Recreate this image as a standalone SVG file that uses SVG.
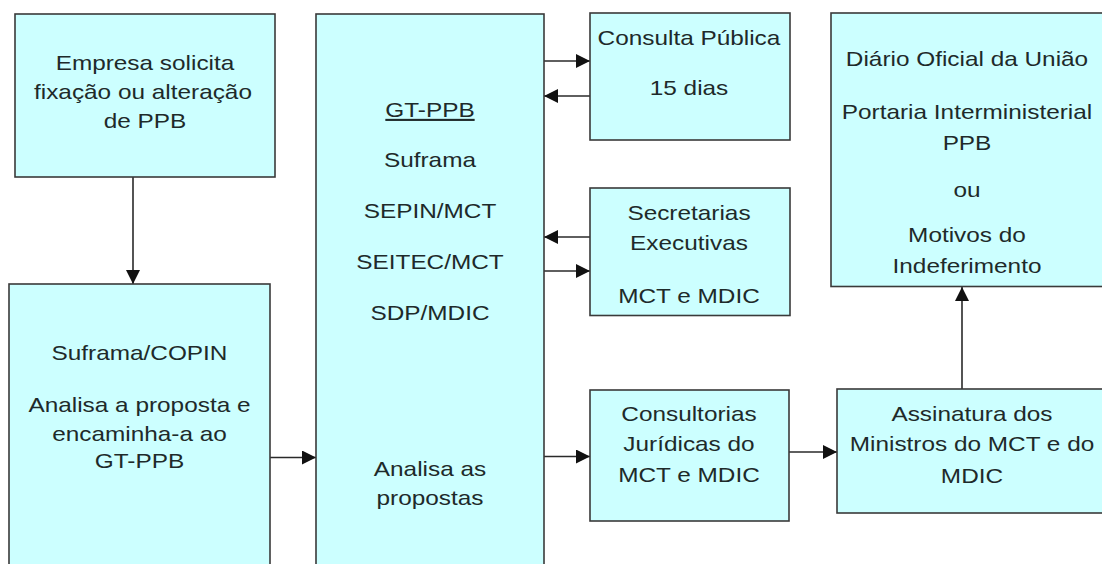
<svg xmlns="http://www.w3.org/2000/svg" width="1102" height="564" viewBox="0 0 1102 564">
<style>
.box{fill:#ccffff;stroke:#3a3a3a;stroke-width:1.6}
.t{font-family:"Liberation Sans",Arial,sans-serif;font-size:21px;fill:#1e2a2a;text-anchor:middle;transform-box:fill-box;transform-origin:center;transform:scaleX(1.16)}
.c{stroke:#2a2a2a;stroke-width:1.6;fill:none;marker-end:url(#ah)}
</style>
<defs>
<marker id="ah" markerUnits="userSpaceOnUse" markerWidth="15" markerHeight="14" refX="14" refY="7" orient="auto">
<path d="M0,0 L14,7 L0,14 z" fill="#111"/>
</marker>
</defs>
<rect width="1102" height="564" fill="#ffffff"/>
<g id="connectors">
<line class="c" x1="133" y1="177" x2="133" y2="284"/>
<line class="c" x1="270" y1="457.5" x2="316" y2="457.5"/>
<line class="c" x1="544" y1="61" x2="590" y2="61"/>
<line class="c" x1="590" y1="96" x2="544" y2="96"/>
<line class="c" x1="590" y1="237" x2="544" y2="237"/>
<line class="c" x1="544" y1="271" x2="590" y2="271"/>
<line class="c" x1="544" y1="456.5" x2="590" y2="456.5"/>
<line class="c" x1="789" y1="452" x2="837" y2="452"/>
<line class="c" x1="962" y1="389" x2="962" y2="287"/>
</g>
<g id="empresa">
<rect class="box" x="15" y="14" width="260" height="163"/>
<text class="t" x="145" y="70">Empresa solicita</text>
<text class="t" x="143" y="99">fixação ou alteração</text>
<text class="t" x="145" y="128">de PPB</text>
</g>
<g id="suframa-copin">
<rect class="box" x="9" y="284" width="261" height="300"/>
<text class="t" x="139.5" y="360">Suframa/COPIN</text>
<text class="t" x="139.5" y="412.5">Analisa a proposta e</text>
<text class="t" x="139.5" y="441">encaminha-a ao</text>
<text class="t" x="139.5" y="468">GT-PPB</text>
</g>
<g id="gt-ppb">
<rect class="box" x="316" y="14" width="228" height="570"/>
<text class="t" x="430" y="117" text-decoration="underline">GT-PPB</text>
<text class="t" x="430" y="167">Suframa</text>
<text class="t" x="430" y="218">SEPIN/MCT</text>
<text class="t" x="430" y="269">SEITEC/MCT</text>
<text class="t" x="430" y="320">SDP/MDIC</text>
<text class="t" x="430" y="476">Analisa as</text>
<text class="t" x="430" y="505">propostas</text>
</g>
<g id="consulta">
<rect class="box" x="590" y="13" width="200" height="127"/>
<text class="t" x="689" y="45">Consulta Pública</text>
<text class="t" x="689" y="95.5">15 dias</text>
</g>
<g id="secretarias">
<rect class="box" x="590" y="188" width="200" height="127.5"/>
<text class="t" x="689" y="220.5">Secretarias</text>
<text class="t" x="689" y="250.5">Executivas</text>
<text class="t" x="689" y="303">MCT e MDIC</text>
</g>
<g id="consultorias">
<rect class="box" x="590" y="390" width="199" height="131"/>
<text class="t" x="689" y="421.5">Consultorias</text>
<text class="t" x="689" y="451.5">Jurídicas do</text>
<text class="t" x="689" y="482">MCT e MDIC</text>
</g>
<g id="assinatura">
<rect class="box" x="837" y="389" width="272" height="124"/>
<text class="t" x="972" y="421.5">Assinatura dos</text>
<text class="t" x="972" y="451.5">Ministros do MCT e do</text>
<text class="t" x="972" y="483">MDIC</text>
</g>
<g id="diario">
<rect class="box" x="831" y="13" width="276" height="273.5"/>
<text class="t" x="967" y="66.5">Diário Oficial da União</text>
<text class="t" x="967" y="119">Portaria Interministerial</text>
<text class="t" x="967" y="150.5">PPB</text>
<text class="t" x="967" y="197">ou</text>
<text class="t" x="967" y="242.5">Motivos do</text>
<text class="t" x="967" y="273">Indeferimento</text>
</g>
</svg>
